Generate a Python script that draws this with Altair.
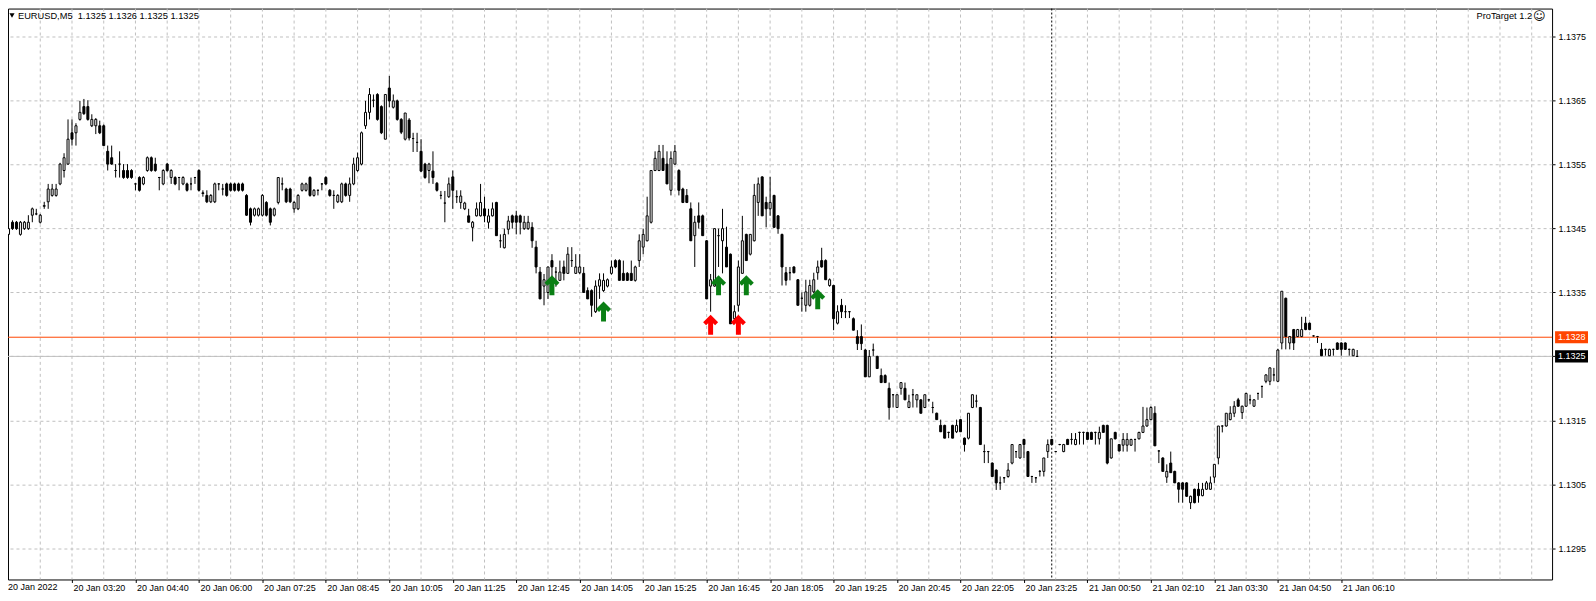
import json
import altair as alt
import pandas as pd

# ---------------- data (prices are BASE + value * PIP) ----------------
BASE = 1.13
PIP = 0.0001

OPEN = [
    44.1, 46.0, 46.0, 44.1, 45.0, 45.0, 47.1, 47.3, 46.0, 48.5,
    49.2, 50.2, 50.2, 52.0, 54.1, 55.1, 60.0, 60.0, 62.1, 64.1,
    64.1, 61.1, 61.1, 61.1, 61.1, 57.1, 56.1, 54.1, 55.1, 54.1,
    54.1, 54.1, 52.0, 53.0, 52.0, 54.1, 56.1, 55.1, 53.0, 52.0,
    55.1, 53.0, 53.0, 53.0, 52.0, 52.0, 52.0, 53.0, 54.1, 50.6,
    50.2, 49.2, 49.2, 52.0, 51.2, 52.0, 52.0, 52.0, 52.0, 52.0,
    50.2, 48.1, 47.1, 47.1, 47.1, 49.1, 48.1, 47.1, 49.1, 52.0,
    51.2, 51.2, 48.1, 48.1, 51.0, 51.0, 53.0, 50.2, 51.0, 52.0,
    53.0, 51.0, 50.2, 49.2, 49.2, 52.0, 50.2, 52.0, 54.1, 55.1,
    61.1, 63.2, 65.1, 66.0, 64.1, 59.0, 67.0, 64.0, 65.0, 62.1,
    59.0, 62.0, 59.1, 58.5, 57.1, 55.1, 54.1, 54.0, 52.1, 50.2,
    49.0, 50.0, 53.1, 50.0, 49.1, 48.1, 47.0, 45.2, 47.0, 47.0,
    48.1, 46.0, 47.0, 49.1, 43.1, 42.0, 44.9, 47.0, 47.0, 47.0,
    45.0, 45.0, 45.2, 42.1, 38.2, 36.0, 35.0, 40.0, 38.2, 36.9,
    39.0, 38.0, 40.0, 38.0, 38.1, 38.0, 35.3, 35.3, 32.0, 36.0,
    35.3, 36.0, 38.0, 40.0, 40.0, 38.0, 38.0, 38.0, 36.9, 40.0,
    42.1, 43.1, 46.0, 54.1, 54.1, 56.0, 55.1, 51.0, 55.1, 54.1,
    51.2, 50.2, 48.1, 43.9, 47.0, 47.0, 43.1, 36.0, 36.0, 43.9,
    43.1, 42.1, 41.0, 30.9, 33.0, 38.0, 44.1, 41.0, 43.1, 49.1,
    53.1, 49.1, 48.1, 50.2, 47.0, 44.1, 38.1, 38.1, 39.0, 37.0,
    34.1, 33.0, 33.0, 35.1, 38.1, 40.0, 40.0, 36.1, 36.1, 30.2,
    33.0, 32.0, 32.0, 30.9, 28.1, 28.1, 26.0, 21.8, 26.0, 25.0,
    22.0, 22.0, 20.0, 19.0, 17.0, 20.0, 20.0, 17.0, 19.0, 18.2,
    18.2, 17.0, 18.2, 17.0, 16.1, 14.2, 14.2, 13.1, 14.2, 13.2,
    15.1, 12.2, 12.2, 17.0, 18.0, 17.0, 10.1, 10.1, 8.3, 7.2,
    5.2, 6.0, 6.2, 8.3, 10.1, 9.1, 12.0, 10.1, 6.2, 6.0,
    7.0, 7.0, 10.1, 12.0, 10.1, 11.2, 10.1, 12.0, 12.0, 11.2,
    13.1, 13.1, 13.1, 13.1, 13.1, 12.1, 14.2, 14.2, 9.1, 13.1,
    11.2, 11.1, 11.1, 11.1, 12.0, 12.1, 13.1, 14.1, 15.1, 16.1,
    10.2, 9.1, 6.1, 8.3, 7.0, 5.2, 5.2, 5.2, 2.1, 4.2,
    4.2, 3.2, 4.2, 4.2, 6.1, 9.1, 14.1, 14.1, 15.1, 16.1,
    18.2, 16.2, 17.2, 18.2, 17.2, 19.2, 20.3, 21.1, 21.1, 22.1,
    21.1, 27.1, 34.1, 27.1, 29.2, 28.1, 28.1, 30.2, 30.2, 28.2,
    28.1, 26.1, 26.1, 25.1, 26.1, 27.1, 27.1, 27.1, 26.1, 25.1,
    25.0,
]

HIGH = [
    46.0, 46.3, 46.2, 46.2, 46.2, 47.1, 48.3, 48.1, 47.3, 49.2,
    52.0, 52.0, 52.0, 55.3, 56.8, 62.1, 62.1, 61.5, 65.0, 65.3,
    65.1, 62.9, 62.3, 61.9, 61.3, 58.0, 58.0, 55.1, 57.1, 55.1,
    55.1, 54.3, 52.1, 53.2, 53.2, 56.3, 56.3, 56.1, 53.1, 54.3,
    55.3, 54.3, 53.2, 53.1, 53.2, 52.2, 53.0, 53.1, 54.3, 51.0,
    51.0, 50.4, 52.2, 52.1, 52.0, 52.2, 52.2, 52.2, 52.2, 52.2,
    50.4, 48.3, 48.3, 48.3, 50.4, 49.3, 48.3, 48.3, 53.0, 53.0,
    51.4, 51.4, 49.3, 50.4, 52.2, 52.2, 53.2, 51.2, 51.1, 52.1,
    53.2, 51.2, 51.0, 50.4, 52.2, 52.2, 53.0, 56.1, 56.9, 60.2,
    65.0, 67.0, 66.0, 66.2, 64.3, 66.0, 68.9, 66.0, 65.2, 62.3,
    63.1, 62.3, 60.0, 60.0, 59.0, 55.3, 55.3, 57.1, 52.3, 50.9,
    50.9, 53.0, 54.1, 51.0, 51.0, 49.2, 48.1, 46.2, 49.1, 52.0,
    50.0, 48.1, 49.1, 49.2, 44.1, 45.0, 47.0, 47.2, 47.8, 47.2,
    47.0, 47.0, 46.0, 43.1, 39.0, 37.9, 39.0, 41.0, 39.0, 40.0,
    40.0, 42.1, 42.1, 41.0, 41.0, 39.0, 35.8, 35.5, 36.9, 38.0,
    38.0, 37.2, 40.0, 40.2, 40.2, 40.0, 38.2, 40.0, 39.2, 44.1,
    45.0, 50.0, 54.1, 57.1, 58.1, 58.1, 57.1, 57.1, 58.1, 54.3,
    51.4, 51.2, 49.1, 47.0, 49.1, 47.2, 43.2, 37.9, 45.0, 45.0,
    48.1, 45.3, 41.1, 33.0, 40.0, 47.0, 44.2, 44.1, 52.0, 53.0,
    53.2, 50.0, 53.1, 50.3, 47.1, 44.2, 39.0, 39.0, 39.1, 37.1,
    35.0, 37.0, 37.0, 38.1, 40.0, 42.0, 40.2, 37.2, 36.2, 33.0,
    34.0, 33.0, 32.1, 31.1, 29.1, 30.0, 26.2, 26.0, 27.0, 25.1,
    23.1, 22.2, 20.9, 19.1, 19.0, 20.9, 20.9, 19.0, 19.9, 19.0,
    18.3, 19.0, 18.3, 17.9, 16.2, 15.1, 14.3, 13.2, 14.3, 15.1,
    15.2, 12.3, 16.1, 19.0, 19.0, 17.1, 11.2, 10.2, 8.4, 7.3,
    6.2, 6.1, 8.3, 11.2, 10.2, 11.2, 12.1, 10.2, 6.3, 6.1,
    7.2, 9.1, 12.0, 12.1, 10.2, 11.3, 11.3, 12.1, 13.0, 13.0,
    13.2, 13.2, 13.2, 13.2, 13.2, 14.0, 14.3, 14.3, 12.1, 13.2,
    11.3, 13.0, 13.0, 12.1, 12.1, 13.2, 17.1, 17.0, 17.2, 17.2,
    10.3, 9.2, 8.1, 10.1, 7.1, 5.3, 5.3, 5.3, 3.2, 4.3,
    5.2, 5.2, 5.5, 6.2, 8.1, 14.1, 14.2, 16.1, 17.2, 18.0,
    18.5, 17.3, 19.3, 19.0, 18.3, 19.3, 20.4, 22.2, 23.3, 23.2,
    26.2, 35.2, 34.2, 28.2, 29.3, 29.3, 31.2, 31.2, 30.3, 28.3,
    28.2, 27.1, 26.2, 26.2, 26.2, 27.2, 27.2, 27.2, 26.2, 26.2,
    26.0,
]

LOW = [
    43.9, 44.8, 44.8, 43.9, 44.8, 44.8, 46.0, 47.1, 45.8, 48.1,
    48.1, 50.0, 50.0, 51.8, 53.0, 55.0, 58.0, 58.0, 61.9, 62.8,
    61.9, 60.9, 59.8, 59.8, 58.0, 54.1, 55.0, 53.0, 53.0, 52.8,
    52.8, 52.8, 51.0, 50.8, 51.8, 53.9, 53.9, 53.9, 51.0, 51.8,
    53.9, 52.0, 51.8, 51.0, 51.8, 50.8, 51.0, 52.0, 50.8, 50.0,
    49.0, 49.0, 49.0, 51.0, 50.2, 50.0, 50.8, 50.8, 50.8, 50.8,
    47.0, 45.5, 46.9, 46.9, 46.9, 46.9, 45.5, 46.9, 48.8, 51.0,
    49.0, 49.0, 47.5, 47.9, 50.8, 50.8, 50.0, 50.0, 50.2, 51.0,
    51.8, 50.0, 48.1, 49.0, 49.0, 50.0, 49.2, 51.8, 53.9, 54.9,
    60.6, 62.1, 64.0, 61.9, 59.8, 59.0, 64.0, 63.8, 61.9, 59.8,
    58.8, 58.8, 57.0, 57.0, 53.9, 52.8, 52.1, 52.0, 50.8, 49.6,
    46.0, 49.8, 48.1, 49.0, 48.1, 47.9, 46.0, 43.0, 46.9, 46.9,
    46.0, 45.0, 46.9, 43.9, 42.0, 41.9, 44.1, 45.0, 44.1, 44.1,
    44.8, 44.8, 42.0, 38.0, 34.0, 33.0, 34.0, 36.9, 35.9, 36.9,
    36.9, 37.9, 39.0, 37.9, 37.9, 35.0, 34.0, 31.2, 31.8, 34.0,
    35.1, 35.8, 37.8, 38.8, 36.9, 36.9, 36.8, 36.8, 36.7, 39.0,
    41.0, 43.0, 45.8, 54.0, 54.0, 54.1, 52.0, 50.2, 55.0, 50.2,
    49.0, 49.0, 43.1, 39.0, 45.0, 43.9, 34.0, 32.0, 35.9, 39.0,
    38.0, 39.0, 30.1, 30.1, 32.0, 38.0, 40.0, 40.8, 43.0, 47.0,
    47.0, 45.2, 47.0, 45.2, 44.2, 36.1, 36.1, 36.9, 38.0, 33.0,
    32.0, 32.0, 32.8, 34.9, 37.0, 38.9, 37.0, 35.9, 29.1, 30.0,
    31.0, 31.0, 31.0, 29.1, 26.0, 26.0, 21.8, 21.8, 25.0, 23.1,
    20.9, 20.9, 15.1, 17.0, 17.0, 19.0, 18.2, 16.9, 17.0, 17.0,
    16.1, 16.9, 17.9, 16.1, 15.1, 13.2, 12.2, 12.2, 12.2, 13.0,
    13.2, 10.1, 12.0, 16.9, 17.0, 11.2, 8.3, 8.3, 6.2, 4.1,
    4.1, 5.2, 6.0, 8.1, 9.1, 9.0, 9.1, 6.2, 5.2, 5.2,
    6.2, 6.2, 9.1, 11.2, 10.0, 11.1, 10.0, 11.2, 11.2, 11.1,
    11.2, 11.2, 12.0, 12.0, 11.2, 11.2, 13.1, 8.1, 9.0, 12.0,
    10.1, 10.1, 10.1, 11.0, 10.1, 12.0, 13.0, 14.0, 15.0, 11.0,
    8.3, 7.0, 5.2, 6.8, 5.2, 2.1, 2.1, 3.0, 1.1, 2.0,
    2.1, 3.1, 4.1, 4.1, 5.2, 8.1, 13.1, 14.0, 15.0, 15.5,
    17.1, 15.2, 17.1, 17.5, 17.1, 18.2, 18.5, 20.8, 20.5, 21.1,
    21.0, 26.1, 26.1, 26.1, 26.0, 28.0, 28.0, 29.1, 29.1, 28.1,
    27.1, 25.0, 25.1, 25.0, 25.1, 26.0, 25.1, 26.0, 25.1, 25.0,
    25.0,
]

CLOSE = [
    45.0, 45.0, 45.0, 46.0, 46.0, 46.0, 48.1, 47.3, 47.1, 48.6,
    51.2, 51.2, 51.2, 55.1, 56.1, 59.0, 59.0, 61.1, 63.2, 63.0,
    62.1, 62.1, 62.1, 60.0, 58.0, 55.1, 55.1, 54.1, 55.1, 53.0,
    53.0, 53.0, 52.0, 51.0, 53.0, 56.1, 54.1, 54.1, 53.0, 54.1,
    54.1, 54.1, 52.0, 53.0, 53.0, 51.0, 52.0, 53.0, 51.0, 50.5,
    49.2, 50.2, 52.0, 52.0, 51.2, 50.2, 51.0, 51.0, 51.0, 51.0,
    47.1, 46.0, 48.1, 48.1, 50.2, 47.1, 46.0, 48.1, 53.0, 52.0,
    49.2, 49.2, 49.1, 50.2, 52.0, 52.0, 50.2, 51.0, 51.0, 52.0,
    52.0, 50.2, 50.2, 50.2, 52.0, 50.2, 52.0, 55.1, 56.1, 60.0,
    63.2, 66.0, 65.1, 62.1, 60.0, 66.0, 65.0, 65.0, 62.1, 60.1,
    63.1, 59.2, 59.1, 58.5, 54.0, 53.0, 55.1, 53.0, 51.0, 50.2,
    49.0, 52.0, 51.0, 50.0, 50.1, 49.0, 46.0, 46.0, 48.1, 49.1,
    47.0, 47.0, 48.1, 43.9, 43.1, 44.1, 46.2, 46.0, 46.0, 46.0,
    46.0, 46.0, 43.1, 39.0, 34.0, 37.0, 39.0, 39.0, 38.2, 38.2,
    38.0, 41.0, 40.0, 39.0, 39.0, 35.0, 34.0, 33.0, 36.0, 37.0,
    36.9, 37.0, 39.0, 39.0, 36.9, 36.9, 36.9, 36.9, 39.0, 43.1,
    44.1, 47.0, 54.1, 56.0, 57.1, 54.1, 52.0, 56.0, 57.1, 51.0,
    49.1, 49.1, 43.1, 46.0, 46.0, 43.9, 34.0, 37.0, 45.0, 43.9,
    45.0, 39.0, 30.1, 32.0, 39.0, 43.1, 40.0, 44.1, 50.2, 52.0,
    47.0, 48.1, 49.1, 45.2, 45.0, 39.0, 36.9, 38.1, 38.1, 33.0,
    34.1, 35.1, 36.1, 37.0, 39.0, 39.0, 37.0, 37.0, 30.9, 32.0,
    32.0, 32.0, 32.0, 29.1, 27.0, 27.0, 21.8, 25.0, 26.0, 23.1,
    20.9, 20.9, 17.0, 19.0, 19.0, 20.9, 18.2, 17.9, 19.0, 19.0,
    16.1, 19.0, 18.2, 17.0, 15.1, 13.2, 12.2, 13.1, 12.2, 14.2,
    13.2, 11.2, 16.1, 19.0, 18.0, 11.2, 10.1, 10.1, 6.2, 5.2,
    5.2, 6.0, 7.2, 11.2, 10.1, 11.2, 11.2, 6.2, 6.2, 6.0,
    7.0, 9.1, 11.2, 11.2, 10.1, 11.2, 11.2, 11.2, 12.0, 12.0,
    13.1, 13.1, 12.0, 12.0, 13.1, 13.1, 13.1, 8.3, 12.1, 12.1,
    10.2, 12.0, 12.0, 12.0, 12.0, 13.1, 14.1, 15.1, 17.0, 11.0,
    10.2, 7.0, 7.0, 6.8, 5.2, 4.2, 4.2, 3.1, 3.1, 2.1,
    3.2, 4.2, 5.2, 5.2, 8.1, 14.1, 14.1, 16.1, 16.1, 17.2,
    17.2, 17.2, 19.2, 18.2, 18.2, 19.2, 20.3, 22.1, 23.2, 22.1,
    26.0, 35.2, 28.1, 28.1, 27.1, 29.2, 29.2, 29.2, 29.2, 28.2,
    28.1, 25.1, 26.1, 26.1, 26.1, 26.1, 26.1, 26.1, 26.1, 26.1,
    25.0,
]

TIME_LABELS = [
    "20 Jan 2022", "20 Jan 03:20", "20 Jan 04:40", "20 Jan 06:00", "20 Jan 07:25",
    "20 Jan 08:45", "20 Jan 10:05", "20 Jan 11:25", "20 Jan 12:45", "20 Jan 14:05",
    "20 Jan 15:25", "20 Jan 16:45", "20 Jan 18:05", "20 Jan 19:25", "20 Jan 20:45",
    "20 Jan 22:05", "20 Jan 23:25", "21 Jan 00:50", "21 Jan 02:10", "21 Jan 03:30",
    "21 Jan 04:50", "21 Jan 06:10",
]
BARS_PER_LABEL = 16
BARS_PER_GRID = 8
PRICE_TICKS = [1.1295, 1.1305, 1.1315, 1.1325, 1.1335, 1.1345, 1.1355, 1.1365, 1.1375]

LEVEL_PRICE = 1.1328      # orange horizontal line
BID_PRICE = 1.1325        # bid line
DAY_SEPARATOR_BAR = 263   # 21 Jan 00:00

GREEN_BARS = [137, 150, 179, 186, 204]
GREEN_TIPS = [37.7, 33.6, 37.7, 37.7, 35.5]
RED_BARS = [177, 184]
RED_TIPS = [31.5, 31.5]

HEADER = "EURUSD,M5\u00a0 1.1325 1.1326 1.1325 1.1325"
INDICATOR = "ProTarget 1.2"

# ---------------- tables ----------------
n = len(OPEN)
candles = pd.DataFrame({
    "i": list(range(n)),
    "o": [BASE + v * PIP for v in OPEN],
    "c": [BASE + v * PIP for v in CLOSE],
    "h": [BASE + max(a, b, d) * PIP for a, b, d in zip(HIGH, OPEN, CLOSE)],
    "l": [BASE + min(a, b, d) * PIP for a, b, d in zip(LOW, OPEN, CLOSE)],
})
grid_df = pd.DataFrame({"i": list(range(BARS_PER_GRID, 388, BARS_PER_GRID))})
green_df = pd.DataFrame({"i": GREEN_BARS, "p": [BASE + v * PIP for v in GREEN_TIPS]})
red_df = pd.DataFrame({"i": RED_BARS, "p": [BASE + v * PIP for v in RED_TIPS]})
level_df = pd.DataFrame({"p": [LEVEL_PRICE]})
bid_df = pd.DataFrame({"p": [BID_PRICE]})
sep_df = pd.DataFrame({"i": [DAY_SEPARATOR_BAR]})

W, H = 1547, 572
FONT = "Liberation Sans"
x_scale = alt.Scale(domain=[1.125, 1.125 + W / 4.0], nice=False, zero=False)
y_scale = alt.Scale(domain=[1.129008, 1.137945], nice=False, zero=False)

label_values = list(range(BARS_PER_LABEL, n, BARS_PER_LABEL))
label_expr = json.dumps(TIME_LABELS) + f"[round(datum.value / {BARS_PER_LABEL})]"

X_AXIS = alt.Axis(
    orient="bottom", values=label_values, labelExpr=label_expr, grid=False, domain=False,
    ticks=True, tickSize=3, tickColor="black", labelAlign="left", labelBaseline="top",
    labelPadding=1, labelOffset=1, labelFont=FONT, labelFontSize=9, labelColor="black",
    labelOverlap=False, labelFlush=False, labelBound=False, title=None)
Y_AXIS = alt.Axis(
    orient="right", values=PRICE_TICKS, format=".4f", grid=True, gridColor="#C0C0C0",
    gridDash=[3, 3], gridWidth=1, domain=False, ticks=True, tickSize=3, tickColor="black",
    labelPadding=3, labelFont=FONT, labelFontSize=9, labelColor="black", title=None)


def X(field):
    return alt.X(field, type="quantitative", scale=x_scale, axis=X_AXIS)


def Y(field):
    return alt.Y(field, type="quantitative", scale=y_scale, axis=Y_AXIS)


ARROW = "M0,0L1,1L0.6,1.4L0.33,1.13L0.33,2.67L-0.33,2.67L-0.33,1.13L-0.6,1.4L-1,1Z"
BOX = "M-1,-0.37L1,-0.37L1,0.37L-1,0.37Z"

vgrid = alt.Chart(grid_df).mark_rule(color="#C0C0C0", strokeDash=[3, 3], strokeWidth=1).encode(
    x=X("i"))

wicks = alt.Chart(candles).mark_rule(color="black", strokeWidth=1, clip=True).encode(
    x=X("i"), y=Y("l"), y2="h:Q")

level_line = alt.Chart(level_df).mark_rule(color="#FF4500", strokeWidth=1).encode(y=Y("p"))
bid_line = alt.Chart(bid_df).mark_rule(color="#C0C0C0", strokeWidth=1).encode(y=Y("p"))
sep_line = alt.Chart(sep_df).mark_rule(color="black", strokeDash=[2, 2], strokeWidth=1).encode(
    x=X("i"))

bodies = alt.Chart(candles).mark_bar(width=2, stroke="black", strokeWidth=1, clip=True).encode(
    x=X("i"), y=Y("o"), y2="c:Q",
    fill=alt.condition("datum.c >= datum.o", alt.value("white"), alt.value("black")),
)

green_arrows = alt.Chart(green_df).mark_point(
    shape=ARROW, size=225, filled=True, opacity=1, strokeWidth=0, color="#0A7F14").encode(
    x=X("i"), y=Y("p"))
red_arrows = alt.Chart(red_df).mark_point(
    shape=ARROW, size=225, filled=True, opacity=1, strokeWidth=0, color="#FF0000").encode(
    x=X("i"), y=Y("p"))

# header texts
header_tri = alt.Chart(pd.DataFrame({"t": [""]})).mark_point(
    shape="triangle-down", size=26, filled=True, opacity=1, color="black").encode(
    x=alt.value(4), y=alt.value(7))
header = alt.Chart(pd.DataFrame({"t": [HEADER]})).mark_text(
    align="left", baseline="middle", font=FONT, fontSize=9.3, color="black").encode(
    x=alt.value(10), y=alt.value(7), text="t:N")
indicator = alt.Chart(pd.DataFrame({"t": [INDICATOR]})).mark_text(
    align="right", baseline="middle", font=FONT, fontSize=9.3, color="black").encode(
    x=alt.value(1527), y=alt.value(7), text="t:N")
smiley = alt.Chart(pd.DataFrame({"t": ["\u263A"]})).mark_text(
    align="left", baseline="middle", font="DejaVu Sans", fontSize=12, color="black").encode(
    x=alt.value(1528), y=alt.value(7), text="t:N")
first_label = alt.Chart(pd.DataFrame({"t": [TIME_LABELS[0]]})).mark_text(
    align="left", baseline="top", font=FONT, fontSize=9, color="black").encode(
    x=alt.value(0), y=alt.value(H + 4), text="t:N")


# price tags on the right scale
def price_tag(df, bg):
    box = alt.Chart(df).mark_point(shape=BOX, size=33 * 33, filled=True, opacity=1,
                                   strokeWidth=0, color=bg).encode(
        x=alt.value(W + 19.5), y=Y("p"))
    txt = alt.Chart(df).mark_text(align="left", baseline="middle", font=FONT, fontSize=9,
                                  color="white").encode(
        x=alt.value(W + 6), y=Y("p"), text=alt.Text("p:Q", format=".4f"))
    return [box, txt]


chart = alt.layer(
    vgrid, wicks, level_line, bid_line, sep_line, bodies, green_arrows, red_arrows,
    header_tri, header, indicator, smiley, first_label,
    *price_tag(level_df, "#FF4500"), *price_tag(bid_df, "black"),
).properties(
    width=W, height=H,
    autosize=alt.AutoSizeParams(type="none"),
    padding={"left": 0, "top": 0, "right": 36, "bottom": 14},
    background="white",
).configure_view(
    stroke="black", strokeWidth=1, fill="white"
)

chart.save("out.html", embed_options={"renderer": "svg", "actions": False})
